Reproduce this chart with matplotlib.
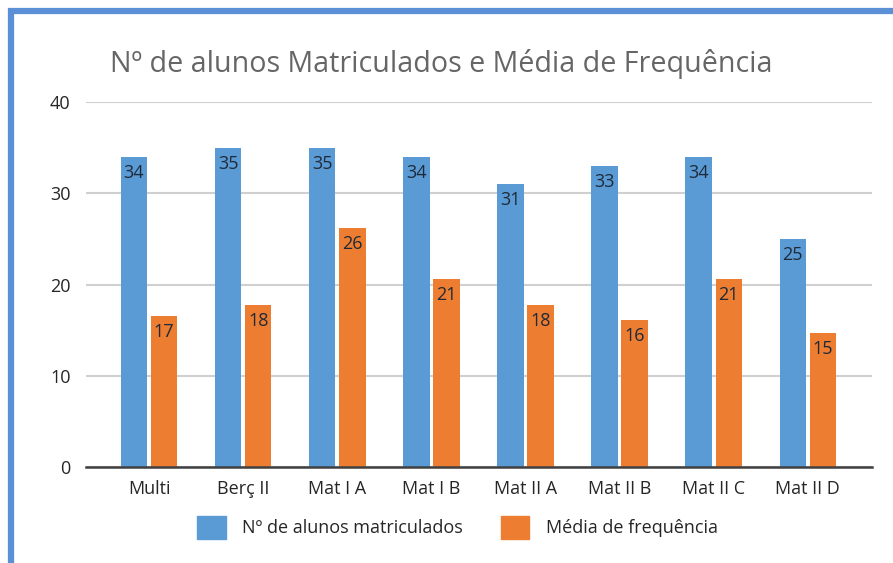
import matplotlib.pyplot as plt
import numpy as np
from matplotlib.patches import Patch, Rectangle

plt.rcParams['font.family'] = ['Open Sans', 'DejaVu Sans']

# dados
turmas = ['Multi', 'Berç II', 'Mat I A', 'Mat I B', 'Mat II A', 'Mat II B', 'Mat II C', 'Mat II D']
matriculados = [34, 35, 35, 34, 31, 33, 34, 25]
frequencia = [16.6, 17.8, 26.2, 20.6, 17.8, 16.1, 20.6, 14.7]

azul = '#5b9bd5'
laranja = '#ed7d31'

fig = plt.figure(figsize=(8.93, 5.63), dpi=100)
ax = fig.add_axes([0.0963, 0.1705, 0.880, 0.6483])

x = np.arange(len(turmas))
w = 0.28
off = 0.16
b1 = ax.bar(x - off, matriculados, w, color=azul, zorder=3)
b2 = ax.bar(x + off, frequencia, w, color=laranja, zorder=3)

# rótulos dentro das barras
for barras, vals in [(b1, matriculados), (b2, frequencia)]:
    for b, v in zip(barras, vals):
        ax.text(b.get_x() + b.get_width() / 2, v - 0.8, f'{round(v)}',
                ha='center', va='top', fontsize=13, color='#1f2a38', zorder=4)

ax.set_ylim(0, 40)
ax.set_yticks([0, 10, 20, 30, 40])
ax.set_xlim(-0.67, 7.68)
ax.set_xticks(x)
ax.set_xticklabels(turmas)
ax.yaxis.grid(True, color='#d0d0d0', linewidth=1.5, zorder=0)
ax.tick_params(axis='both', length=0, labelsize=13, colors='#262626')
ax.tick_params(axis='y', pad=11)
ax.tick_params(axis='x', pad=9)
for s in ['top', 'right', 'left']:
    ax.spines[s].set_visible(False)
ax.spines['bottom'].set_color('#404040')
ax.spines['bottom'].set_linewidth(1.8)
ax.spines['bottom'].set_zorder(5)

fig.text(0.123, 0.886, 'Nº de alunos Matriculados e Média de Frequência',
         fontsize=20.6, color='#666666', va='center', ha='left')

handles = [Patch(color=azul, label='Nº de alunos matriculados'),
           Patch(color=laranja, label='Média de frequência')]
fig.legend(handles=handles, loc='center', bbox_to_anchor=(0.512, 0.063), ncol=2,
           frameon=False, fontsize=13, handlelength=1.6, handleheight=1.6,
           handletextpad=0.9, columnspacing=2.1, labelcolor='#262626')

# moldura azul
fig.patches.append(Rectangle((0.012, -0.05), 1.1, 1.03, transform=fig.transFigure,
                             fill=False, edgecolor='#5b8fd6', linewidth=4.5))

fig.savefig('out.png', dpi=100)
